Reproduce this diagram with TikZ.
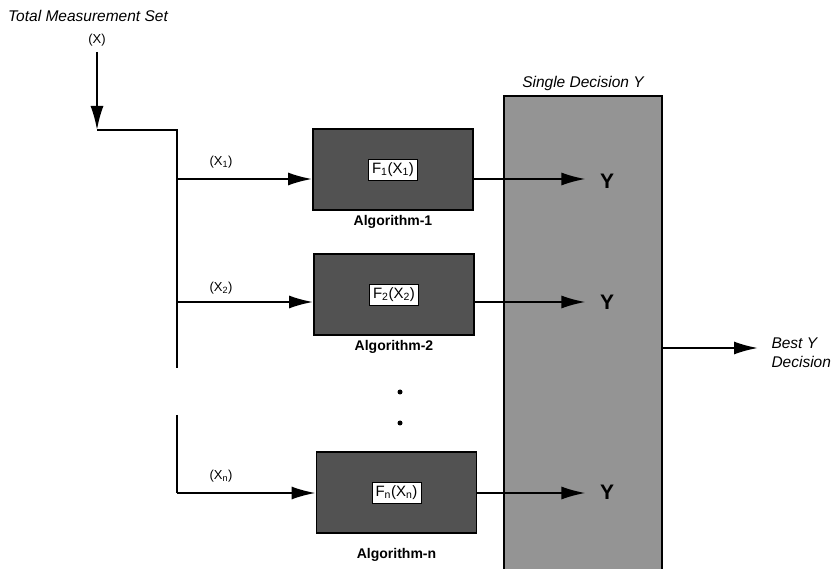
\documentclass[tikz,border=0pt]{standalone}
\usepackage{fontspec}
\setmainfont{Liberation Sans}
\usetikzlibrary{arrows.meta, positioning}

\begin{document}
\begin{tikzpicture}[x=1pt, y=-1pt,
  alg/.style={draw, line width=1.8pt, fill=black!68, minimum width=160pt, minimum height=81pt},
  fbox/.style={draw, line width=0.5pt, fill=white, inner sep=3.5pt, font=\fontsize{15}{17}\selectfont},
  deci/.style={draw, line width=1.8pt, fill=black!42, minimum width=158pt, minimum height=475pt},
  lbl/.style={font=\bfseries\fontsize{14}{16}\selectfont},
  xin/.style={font=\fontsize{13}{15}\selectfont},
  ital/.style={font=\itshape\fontsize{15.5}{19}\selectfont},
  yout/.style={font=\bfseries\fontsize{21}{23}\selectfont},
  dotmark/.style={circle, fill, inner sep=0pt, minimum size=5pt},
  wire/.style={line width=2pt},
  arr/.style={-{Latex[length=24pt, width=13pt]}, line width=2pt}
]
\useasboundingbox (0,0) rectangle (836,569);

% input side
\node[ital] (title) at (88,16) {Total Measurement Set};
\node[xin] (xall) at (97,40) {(X)};
\coordinate (xtop) at (97,52);
\coordinate (split) at (97,130);
\coordinate (corner) at (177,130);
\coordinate (s1) at (177,179);
\coordinate (s2) at (177,302);
\coordinate (gapa) at (177,368);
\coordinate (gapb) at (177,415);
\coordinate (sn) at (177,493);

% decision column
\node[deci] (deci) at (583,333.5) {};
\node[ital, above=1pt of deci] (single) {Single Decision Y};
\coordinate (out) at (662,348);

% algorithms
\node[alg] (alg1) at (393,169.5) {};
\node[fbox] (f1) at (alg1) {F\textsubscript{1}(X\textsubscript{1})};
\node[lbl, below=1pt of alg1] (name1) {Algorithm-1};

\node[alg] (alg2) at (394,294.5) {};
\node[fbox] (f2) at (alg2) {F\textsubscript{2}(X\textsubscript{2})};
\node[lbl, below=1pt of alg2] (name2) {Algorithm-2};

\node[dotmark] (dot1) at (400,392) {};
\node[dotmark] (dot2) at (400,423) {};

\node[alg] (algn) at (396.5,492.5) {};
\node[fbox] (fn) at (algn) {F\textsubscript{n}(X\textsubscript{n})};
\node[lbl, below=11pt of algn] (namen) {Algorithm-n};

\node[xin] (x1) at (221,162) {(X\textsubscript{1})};
\node[xin] (x2) at (221,288) {(X\textsubscript{2})};
\node[xin] (xn) at (221,476) {(X\textsubscript{n})};

\node[yout] (y1) at (607,181) {Y};
\node[yout] (y2) at (607,302) {Y};
\node[yout] (yn) at (607,492) {Y};

\node[ital, align=left, anchor=west] (best) at (768,353) {Best Y\\Decision};

\draw[arr] (xtop) -- (split);
\draw[wire] (split) -- (corner) -- (gapa);
\draw[wire] (gapb) -- (sn);

\draw[arr] (s1) -- (s1 -| alg1.west);
\draw[arr] (s2) -- (s2 -| alg2.west);
\draw[arr] (sn) -- (sn -| algn.west);

\draw[arr, shorten >=11pt] (alg1.east |- s1) -- (y1.west |- s1);
\draw[arr, shorten >=11pt] (alg2.east |- s2) -- (y2.west |- s2);
\draw[arr, shorten >=11pt] (algn.east |- sn) -- (yn.west |- sn);

\draw[arr, shorten >=10pt] (out) -- (best.west |- out);
\end{tikzpicture}
\end{document}
